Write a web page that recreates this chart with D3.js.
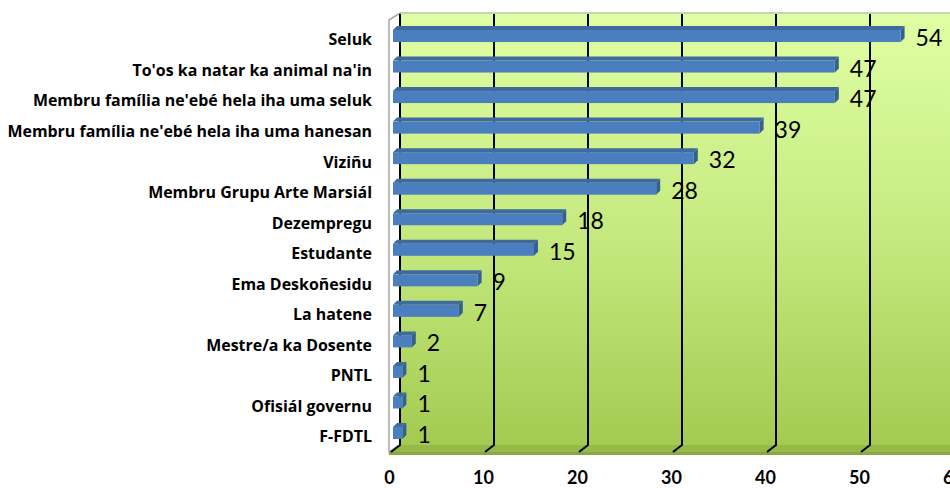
<!DOCTYPE html>
<html>
<head>
<meta charset="utf-8">
<script src="https://cdn.jsdelivr.net/npm/d3@7"></script>
<style>
  body { margin: 0; background: #fff; }
  svg { display: block; }
</style>
</head>
<body>
<div class="canvas"></div>
<script>
const categories = [
  "Seluk",
  "To'os ka natar ka animal na'in",
  "Membru família ne'ebé hela iha uma seluk",
  "Membru família ne'ebé hela iha uma hanesan",
  "Viziñu",
  "Membru Grupu Arte Marsiál",
  "Dezempregu",
  "Estudante",
  "Ema Deskoñesidu",
  "La hatene",
  "Mestre/a ka Dosente",
  "PNTL",
  "Ofisiál governu",
  "F-FDTL"
];
const values = [54, 47, 47, 39, 32, 28, 18, 15, 9, 7, 2, 1, 1, 1];
const ticks = [0, 10, 20, 30, 40, 50, 60];

const width = 950, height = 488;
const backX = 400, frontX = 389, barX = 393;
const wallTop = 13, wallBottom = 445, floorFront = 452;
const depthX = backX - frontX, depthY = floorFront - wallBottom;

const svg = d3.select(".canvas").append("svg")
  .attr("width", width).attr("height", height);

// scales
const x = d3.scaleLinear().domain([0, 60]).range([0, 564]);
const y = d3.scaleBand().domain(categories).range([24, 24 + 14 * 30.54]);

const defs = svg.append("defs");
const grad = defs.append("linearGradient").attr("id", "wall")
  .attr("x1", 0).attr("y1", 0).attr("x2", 0).attr("y2", 1);
grad.append("stop").attr("offset", "0%").attr("stop-color", "#e0ffa4");
grad.append("stop").attr("offset", "50%").attr("stop-color", "#c6ea80");
grad.append("stop").attr("offset", "100%").attr("stop-color", "#a3cb52");

// back wall
svg.append("rect")
  .attr("x", backX).attr("y", wallTop)
  .attr("width", width - backX).attr("height", wallBottom - wallTop)
  .attr("fill", "url(#wall)");
svg.append("line")
  .attr("x1", backX).attr("x2", width)
  .attr("y1", wallTop).attr("y2", wallTop)
  .attr("stroke", "#b9c9a0").attr("stroke-width", 1.5);

// side wall
svg.append("path")
  .attr("d", `M${frontX},${wallTop + depthY} L${backX},${wallTop} L${backX},${wallBottom} L${frontX},${floorFront} Z`)
  .attr("fill", "#fff")
  .attr("stroke", "#a6a6a6").attr("stroke-width", 1.5);

// floor
svg.append("path")
  .attr("d", `M${backX},${wallBottom} L${width},${wallBottom} L${width},${floorFront} L${frontX},${floorFront} Z`)
  .attr("fill", "#96b94a");
svg.append("rect")
  .attr("x", frontX).attr("y", floorFront)
  .attr("width", width - frontX).attr("height", 3)
  .attr("fill", "#87a843");

// gridlines with foot on the floor
svg.append("g").selectAll("path")
  .data(ticks)
  .join("path")
  .attr("d", d => `M${backX + x(d)},${wallTop + 1} L${backX + x(d)},${wallBottom} L${backX + x(d) - depthX + 2},${floorFront}`)
  .attr("fill", "none")
  .attr("stroke", "#000")
  .attr("stroke-width", 2);

// 3d bars
const bh = 12, bd = 4;
const bars = svg.append("g").selectAll("g")
  .data(values)
  .join("g")
  .attr("transform", (d, i) => `translate(${barX},${y(categories[i]) + 6})`);

bars.append("path")
  .attr("d", d => `M0,0 L${bd},${-bd} L${x(d) + bd},${-bd} L${x(d)},0 Z`)
  .attr("fill", "#3f6a9e");
bars.append("path")
  .attr("d", d => `M${x(d)},0 L${x(d) + bd},${-bd} L${x(d) + bd},${bh - bd} L${x(d)},${bh} Z`)
  .attr("fill", "#36608f");
bars.append("rect")
  .attr("width", d => x(d)).attr("height", bh)
  .attr("fill", "#4a7ebf");

// value labels
svg.append("g").selectAll("text")
  .data(values)
  .join("text")
  .attr("x", d => barX + x(d) + 15)
  .attr("y", (d, i) => y(categories[i]) + 13)
  .attr("dominant-baseline", "central")
  .attr("font-family", "Lato, 'Open Sans', sans-serif")
  .attr("font-size", 23)
  .attr("fill", "#000")
  .text(d => d);

// category labels
const yAxis = d3.axisLeft(y).tickSize(0).tickPadding(0);
const yAxisGroup = svg.append("g")
  .attr("transform", `translate(372,1)`)
  .call(yAxis);
yAxisGroup.select(".domain").remove();
const catText = yAxisGroup.selectAll("text")
  .attr("font-family", "'Open Sans', sans-serif")
  .attr("font-size", 15)
  .attr("font-weight", "bold")
  .attr("fill", "#000");
// fit the longest label to the width seen in the chart
const longest = d3.max(catText.nodes(), n => n.getComputedTextLength());
catText.attr("font-size", 15 * 365 / longest);

// x axis labels
const xAxis = d3.axisBottom(x).tickValues(ticks).tickSize(0).tickPadding(0);
const xAxisGroup = svg.append("g")
  .attr("transform", `translate(${frontX},477)`)
  .call(xAxis);
xAxisGroup.select(".domain").remove();
xAxisGroup.selectAll("text")
  .attr("y", 0).attr("dy", 0)
  .attr("dominant-baseline", "central")
  .attr("font-family", "Lato, 'Open Sans', sans-serif")
  .attr("font-size", 18)
  .attr("font-weight", "bold")
  .attr("fill", "#000");
</script>
</body>
</html>
